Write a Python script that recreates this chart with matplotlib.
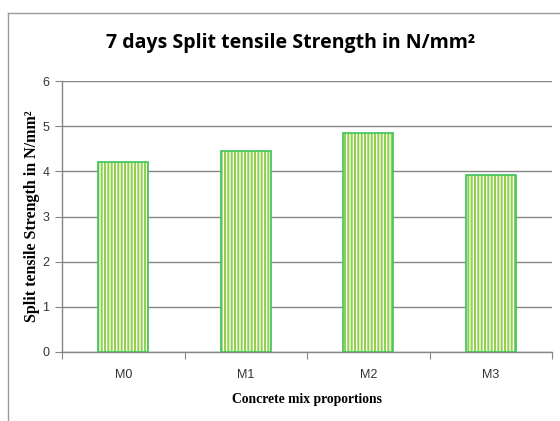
import matplotlib
matplotlib.use("Agg")
import matplotlib.pyplot as plt
from matplotlib.lines import Line2D
from matplotlib.ticker import FixedLocator, NullFormatter

categories = ["M0", "M1", "M2", "M3"]
values = [4.2, 4.45, 4.84, 3.92]
yticks = [0, 1, 2, 3, 4, 5, 6]

plt.rcParams['hatch.linewidth'] = 1.5

fig = plt.figure(figsize=(5.6, 4.21), dpi=100)
ax = fig.add_axes([62/560, 1-352/421, (552-62)/560, (352-81)/421])

x = list(range(len(categories)))
ax.bar(x, values, width=0.41, color="white", edgecolor="#92D050", hatch="|||||", linewidth=0, zorder=3)
ax.bar(x, values, width=0.41, facecolor="none", edgecolor="#3CC35A", linewidth=1.2, zorder=4)

ax.set_xlim(-0.5, 3.5)
ax.set_ylim(0, 6)
ax.set_yticks(yticks)
ax.set_yticklabels([str(t) for t in yticks], fontsize=9, color="#333333", family="Liberation Sans")
ax.xaxis.set_major_locator(FixedLocator([-0.5, 0.5, 1.5, 2.5, 3.5]))
ax.xaxis.set_major_formatter(NullFormatter())
ax.xaxis.set_minor_locator(FixedLocator(x))
ax.set_xticklabels(categories, minor=True, fontsize=9, color="#333333", family="Liberation Sans")
ax.tick_params(axis="x", which="major", length=5, color="#868686", direction="out")
ax.tick_params(axis="x", which="minor", length=0, pad=12)
ax.tick_params(axis="y", length=5, color="#868686", direction="out", pad=4)

ax.grid(axis="y", color="#868686", linewidth=1.0, zorder=0)
ax.set_axisbelow(True)
for s in ["top", "right"]:
    ax.spines[s].set_visible(False)
for s in ["left", "bottom"]:
    ax.spines[s].set_color("#868686")
    ax.spines[s].set_linewidth(1.0)

ax.set_ylabel("Split tensile Strength in N/mm\u00b2", fontsize=11.5, fontweight="bold",
              family="Liberation Serif", labelpad=2)
ax.set_xlabel("Concrete mix proportions", fontsize=9.8, fontweight="bold",
              family="Liberation Serif", labelpad=9)

fig.text(291/560, 1-43/421, "7 days Split tensile Strength in N/mm\u00b2", ha="center", va="center",
         fontsize=14, fontweight="bold", family="Open Sans")

fig.add_artist(Line2D([8/560, 8/560], [0, 1-13/421], transform=fig.transFigure, color="#9A9A9A", linewidth=1.0))
fig.add_artist(Line2D([8/560, 1], [1-13/421, 1-13/421], transform=fig.transFigure, color="#9A9A9A", linewidth=1.0))

fig.savefig("out.png", dpi=100)
